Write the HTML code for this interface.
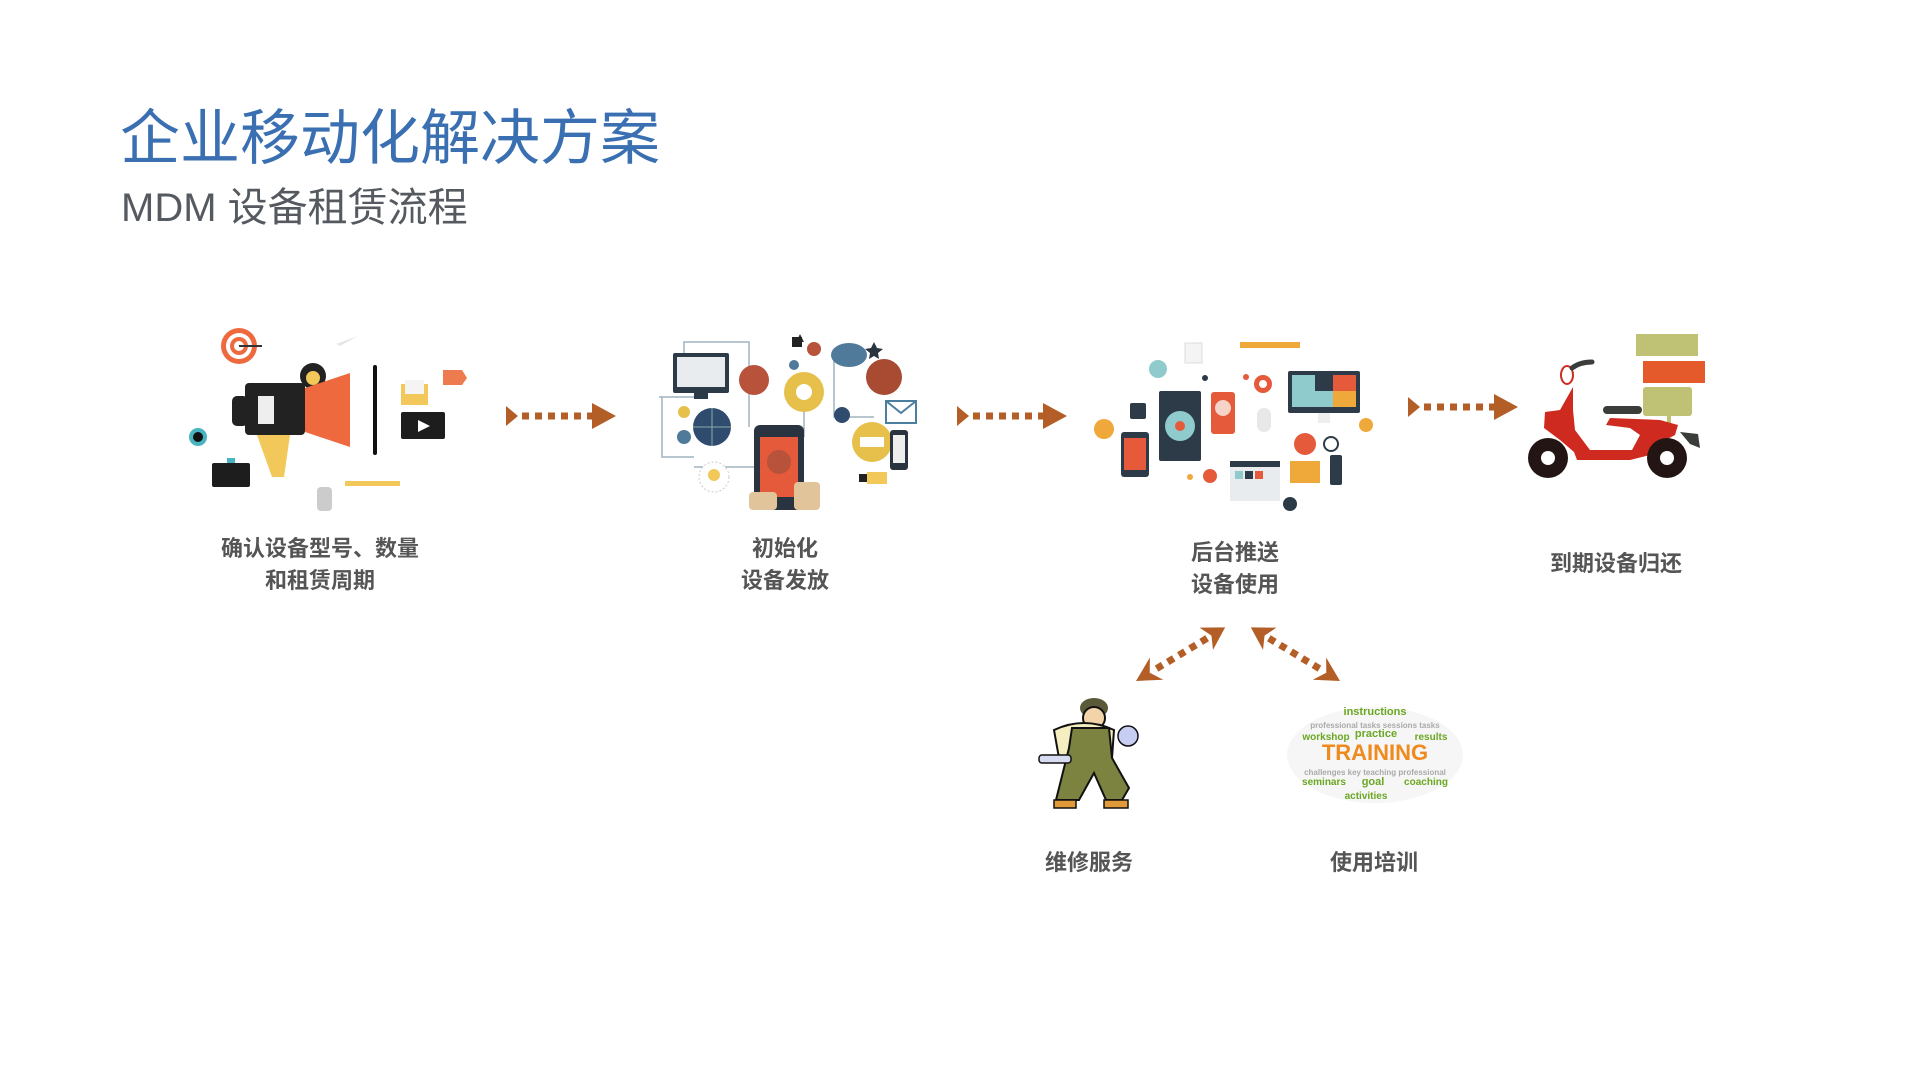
<!DOCTYPE html>
<html><head><meta charset="utf-8"><style>
html,body{margin:0;padding:0;background:#fff;width:1920px;height:1080px;overflow:hidden}
svg{display:block}
</style></head><body>
<svg width="1920" height="1080" viewBox="0 0 1920 1080" xmlns="http://www.w3.org/2000/svg">
<defs>
<g id="arr">
 <polygon points="0,-10 12,0 0,10" fill="#b35e26"/>
 <g fill="#b35e26">
  <rect x="16" y="-3.5" width="7" height="7"/><rect x="29" y="-3.5" width="7" height="7"/><rect x="42" y="-3.5" width="7" height="7"/><rect x="55" y="-3.5" width="7" height="7"/><rect x="68" y="-3.5" width="7" height="7"/><rect x="81" y="-3.5" width="7" height="7"/>
 </g>
 <polygon points="86,-13 110,0 86,13" fill="#b35e26"/>
</g>
<g id="darr">
 <polygon points="0,0 24,-13 16,0 24,13" fill="#b35e26"/>
 <g fill="#b35e26">
  <rect x="24" y="-3.5" width="7" height="7"/><rect x="37" y="-3.5" width="7" height="7"/><rect x="50" y="-3.5" width="7" height="7"/><rect x="63" y="-3.5" width="7" height="7"/><rect x="76" y="-3.5" width="7" height="7"/>
 </g>
 <polygon points="104,0 82,-13 88,0 82,13" fill="#b35e26"/>
</g>
</defs>

<text x="120" y="159" font-family="'Liberation Sans','Noto Sans CJK SC',sans-serif" font-size="60" fill="#3a6fb2">企业移动化解决方案</text>
<text x="121" y="221" font-family="'Liberation Sans','Noto Sans CJK SC',sans-serif" font-size="40" fill="#555a60">MDM 设备租赁流程</text>

<!-- megaphone illustration -->
<g>
 <circle cx="239" cy="346" r="18" fill="#ee6a3e"/><circle cx="239" cy="346" r="13" fill="#fff"/><circle cx="239" cy="346" r="9" fill="#ee6a3e"/><circle cx="239" cy="346" r="5" fill="#fff"/>
 <line x1="239" y1="346" x2="262" y2="346" stroke="#333" stroke-width="2"/>
 <polygon points="336,344 358,336 340,346" fill="#e6e6e6"/>
 <circle cx="313" cy="376" r="13" fill="#222"/><circle cx="313" cy="378" r="7" fill="#f2c85a"/>
 <rect x="232" y="396" width="16" height="30" rx="5" fill="#222"/>
 <rect x="245" y="383" width="60" height="52" rx="4" fill="#222"/>
 <rect x="258" y="396" width="16" height="28" fill="#eee"/>
 <polygon points="305,388 350,373 350,447 305,432" fill="#ee6a3e"/>
 <polygon points="257,435 290,435 284,477 272,477" fill="#f2c85a"/>
 <rect x="373" y="365" width="4" height="90" rx="2" fill="#111"/>
 <rect x="401" y="384" width="27" height="21" fill="#f2c85a"/><rect x="405" y="380" width="19" height="14" fill="#f4f4f4"/>
 <polygon points="443,370 462,370 467,378 462,385 443,385" fill="#ee7a50"/>
 <rect x="401" y="412" width="44" height="27" rx="2" fill="#1d1d1d"/><polygon points="418,420 430,426 418,432" fill="#fff"/>
 <circle cx="198" cy="437" r="9" fill="#4ab3c2"/><circle cx="198" cy="437" r="5" fill="#111"/>
 <rect x="212" y="463" width="38" height="24" rx="2" fill="#1d1d1d"/><rect x="227" y="458" width="8" height="5" fill="#4ab3c2"/>
 <rect x="345" y="481" width="55" height="5" fill="#f2c85a"/>
 <rect x="317" y="487" width="15" height="24" rx="4" fill="#ccc"/>
</g>

<!-- connected devices illustration -->
<g transform="translate(-6,-3)">
 <g fill="none" stroke="#9fb3bf" stroke-width="1.5">
  <path d="M690 380 V345 H755 V430"/><path d="M665 400 H700 M668 400 V460 H700"/><path d="M700 470 H785"/><path d="M810 380 V440"/><path d="M840 360 V420 H880"/>
 </g>
 <rect x="679" y="356" width="56" height="40" rx="2" fill="#2d3a48"/><rect x="683" y="360" width="48" height="30" fill="#e8ecef"/><rect x="700" y="396" width="14" height="6" fill="#2d3a48"/>
 <circle cx="760" cy="383" r="15" fill="#b8523a"/>
 <circle cx="810" cy="395" r="20" fill="#e6c04a"/><circle cx="810" cy="395" r="8" fill="#fff"/>
 <ellipse cx="855" cy="358" rx="18" ry="12" fill="#4f7a9a"/>
 <circle cx="890" cy="380" r="18" fill="#a84b32"/>
 <rect x="892" y="404" width="30" height="22" fill="#fff" stroke="#4a7fa0" stroke-width="2"/><path d="M892 404 L907 416 L922 404" stroke="#4a7fa0" stroke-width="2" fill="none"/>
 <circle cx="718" cy="430" r="19" fill="#2f4c6e"/><path d="M699 430 H737 M718 411 V449" stroke="#8aa" stroke-width="1"/>
 <circle cx="848" cy="418" r="8" fill="#2f4c6e"/>
 <rect x="760" y="428" width="50" height="85" rx="6" fill="#2a3440"/><rect x="766" y="440" width="38" height="60" fill="#e45a3a"/>
 <circle cx="785" cy="465" r="12" fill="#b8523a"/>
 <rect x="755" y="495" width="28" height="18" rx="4" fill="#e2c49a"/><rect x="800" y="485" width="26" height="28" rx="4" fill="#e2c49a"/>
 <circle cx="878" cy="445" r="20" fill="#e6c04a"/><rect x="866" y="440" width="24" height="10" fill="#fff"/>
 <rect x="896" y="433" width="18" height="40" rx="3" fill="#2a3440"/><rect x="899" y="438" width="12" height="28" fill="#eee"/>
 <circle cx="720" cy="480" r="15" fill="#fff" stroke="#ccc" stroke-dasharray="2 2"/><circle cx="720" cy="478" r="6" fill="#f2c85a"/>
 <circle cx="690" cy="440" r="7" fill="#4f7a9a"/><circle cx="690" cy="415" r="6" fill="#e6c04a"/>
 <path d="M806 337 l4 8 l-8 0z" fill="#333"/><rect x="798" y="340" width="10" height="10" fill="#222"/><circle cx="820" cy="352" r="7" fill="#b8523a"/><circle cx="800" cy="368" r="5" fill="#4f7a9a"/>
 <path d="M880 345 l3 6 6 1 -5 4 1 6 -5 -3 -5 3 1 -6 -5 -4 6 -1z" fill="#2a3440"/>
 <rect x="873" y="475" width="20" height="12" fill="#f2c85a"/><rect x="865" y="477" width="8" height="8" fill="#222"/>
</g>

<!-- backend illustration -->
<g transform="translate(-15,-2)">
 <rect x="1200" y="345" width="17" height="20" fill="#f4f4f4" stroke="#ddd"/>
 <rect x="1255" y="344" width="60" height="6" fill="#efa83a"/>
 <circle cx="1173" cy="371" r="9" fill="#8fcbcc"/>
 <circle cx="1278" cy="386" r="9" fill="#e45a3a"/><circle cx="1278" cy="386" r="4" fill="#fff"/>
 <rect x="1303" y="373" width="72" height="42" rx="2" fill="#2d3a48"/><rect x="1307" y="377" width="64" height="32" fill="#8fcbcc"/><rect x="1330" y="377" width="18" height="16" fill="#2d3a48"/><rect x="1348" y="393" width="23" height="16" fill="#efa83a"/><rect x="1348" y="377" width="23" height="16" fill="#e45a3a"/>
 <rect x="1333" y="415" width="12" height="10" fill="#eee"/>
 <rect x="1145" y="405" width="16" height="16" rx="2" fill="#2d3a48"/>
 <rect x="1174" y="393" width="42" height="70" rx="2" fill="#2d3a48"/><circle cx="1195" cy="428" r="15" fill="#8fcbcc"/><circle cx="1195" cy="428" r="5" fill="#e45a3a"/>
 <rect x="1226" y="394" width="24" height="42" rx="3" fill="#e45a3a"/><circle cx="1238" cy="410" r="8" fill="#f6d3c9"/>
 <rect x="1272" y="410" width="14" height="24" rx="7" fill="#e8e8e8"/>
 <circle cx="1119" cy="431" r="10" fill="#efa83a"/><circle cx="1381" cy="427" r="7" fill="#efa83a"/>
 <rect x="1136" y="434" width="28" height="45" rx="3" fill="#2d3a48"/><rect x="1139" y="440" width="22" height="32" fill="#e45a3a"/>
 <circle cx="1320" cy="446" r="11" fill="#e45a3a"/><circle cx="1346" cy="446" r="7" fill="#fff" stroke="#2d3a48" stroke-width="2"/>
 <rect x="1245" y="463" width="50" height="40" fill="#e8ecef"/><rect x="1245" y="463" width="50" height="6" fill="#2d3a48"/><rect x="1250" y="473" width="8" height="8" fill="#8fcbcc"/><rect x="1260" y="473" width="8" height="8" fill="#2d3a48"/><rect x="1270" y="473" width="8" height="8" fill="#e45a3a"/>
 <rect x="1305" y="463" width="30" height="22" fill="#efa83a"/>
 <rect x="1345" y="457" width="12" height="30" rx="2" fill="#2d3a48"/>
 <circle cx="1225" cy="478" r="7" fill="#e45a3a"/><circle cx="1305" cy="506" r="7" fill="#2d3a48"/>
 <circle cx="1205" cy="479" r="3" fill="#efa83a"/><circle cx="1220" cy="380" r="3" fill="#2d3a48"/><circle cx="1261" cy="379" r="3" fill="#e45a3a"/>
</g>

<!-- scooter -->
<g>
 <rect x="1636" y="334" width="62" height="22" fill="#bfc174"/>
 <rect x="1643" y="361" width="62" height="22" fill="#e45a2a"/>
 <rect x="1643" y="387" width="49" height="29" rx="3" fill="#bfc174"/>
 <rect x="1667" y="416" width="4" height="16" fill="#bfc174"/>
 <rect x="1603" y="406" width="39" height="8" rx="4" fill="#3a3d3a"/>
 <path d="M1573 387 L1560 410 L1545 412 L1544 428 L1560 440 L1574 452 L1577 460 L1630 460 L1650 455 L1660 443 L1675 435 L1678 425 L1660 420 L1610 418 L1606 425 L1630 428 L1640 435 L1632 450 L1590 450 L1575 430 L1573 410 Z" fill="#cf2a1f"/>
 <path d="M1680 432 L1698 434 L1700 448 L1690 444 Z" fill="#3a3d3a"/>
 <ellipse cx="1567" cy="375" rx="6" ry="9" fill="#fff" stroke="#cf2a1f" stroke-width="2"/>
 <path d="M1572 368 Q1580 362 1592 362" stroke="#3a3d3a" stroke-width="5" fill="none" stroke-linecap="round"/>
 <circle cx="1548" cy="458" r="20" fill="#231514"/><circle cx="1548" cy="458" r="7" fill="#fff"/>
 <circle cx="1667" cy="458" r="20" fill="#231514"/><circle cx="1667" cy="458" r="7" fill="#fff"/>
</g>

<!-- arrows -->
<use href="#arr" x="506" y="416"/>
<use href="#arr" x="957" y="416"/>
<use href="#arr" x="1408" y="407"/>
<use href="#darr" transform="translate(1136,681) rotate(-31)"/>
<use href="#darr" transform="translate(1340,681) rotate(-149)"/>

<!-- labels -->
<g font-family="'Liberation Sans','Noto Sans CJK SC',sans-serif" font-size="22" font-weight="bold" fill="#555" text-anchor="middle">
 <text x="320" y="556">确认设备型号、数量</text>
 <text x="320" y="588">和租赁周期</text>
 <text x="785" y="556">初始化</text>
 <text x="785" y="588">设备发放</text>
 <text x="1235" y="560">后台推送</text>
 <text x="1235" y="592">设备使用</text>
 <text x="1616" y="571">到期设备归还</text>
 <text x="1089" y="870">维修服务</text>
 <text x="1374" y="870">使用培训</text>
</g>

<!-- mechanic -->
<g transform="translate(-6,-12)">
 <ellipse cx="1100" cy="720" rx="14" ry="10" fill="#5a5a3a"/>
 <circle cx="1100" cy="730" r="11" fill="#f3d3a8" stroke="#111" stroke-width="2"/>
 <path d="M1060 742 Q1090 728 1120 742 L1118 770 L1065 770 Z" fill="#f4eec0" stroke="#111" stroke-width="2"/>
 <path d="M1078 740 L1115 740 L1118 770 L1135 800 L1128 812 L1112 812 L1100 785 L1085 812 L1062 812 L1070 780 L1075 760 Z" fill="#7c8240" stroke="#111" stroke-width="2"/>
 <rect x="1045" y="767" width="32" height="8" rx="3" fill="#d8dcf0" stroke="#111" stroke-width="1.5"/>
 <circle cx="1134" cy="748" r="10" fill="#c8cdf2" stroke="#111" stroke-width="1.5"/>
 <path d="M1060 812 h22 v8 h-22z M1110 812 h24 v8 h-24z" fill="#e09a3a" stroke="#111" stroke-width="1.5"/>
</g>

<!-- training cloud -->
<g font-family="'Liberation Sans',sans-serif" font-weight="bold" text-anchor="middle" transform="translate(-19,-5)">
 <ellipse cx="1394" cy="760" rx="88" ry="48" fill="#f6f6f6"/>
 <text x="1394" y="720" font-size="11" fill="#6aa722">instructions</text>
 <text x="1394" y="733" font-size="8" fill="#aaa">professional tasks sessions tasks</text>
 <text x="1345" y="745" font-size="10" fill="#6aa722">workshop</text>
 <text x="1395" y="742" font-size="11" fill="#6aa722">practice</text>
 <text x="1450" y="745" font-size="10" fill="#6aa722">results</text>
 <text x="1394" y="765" font-size="22" fill="#ef8a1e">TRAINING</text>
 <text x="1394" y="780" font-size="8" fill="#aaa">challenges key teaching professional</text>
 <text x="1343" y="790" font-size="10" fill="#6aa722">seminars</text>
 <text x="1392" y="790" font-size="11" fill="#6aa722">goal</text>
 <text x="1445" y="790" font-size="10" fill="#6aa722">coaching</text>
 <text x="1385" y="804" font-size="10" fill="#6aa722">activities</text>
</g>
</svg>
</body></html>
